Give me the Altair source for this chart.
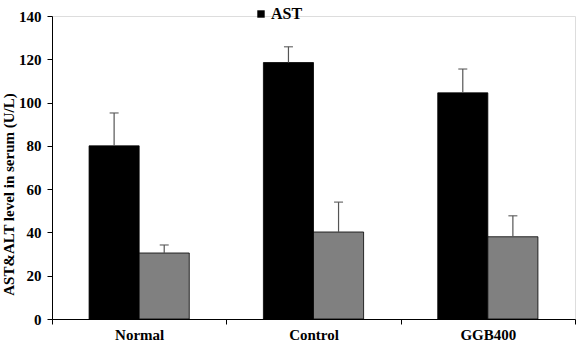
import altair as alt
import pandas as pd

groups = ["Normal", "Control", "GGB400"]
enzymes = ["AST", "ALT"]
ast_mean = [80, 118.5, 104.5]
ast_err = [15.2, 7.3, 11.0]
alt_mean = [30.5, 40.2, 38.0]
alt_err = [3.7, 13.8, 9.7]

rows = []
for g, m, e in zip(groups, ast_mean, ast_err):
    rows.append({"group": g, "enzyme": "AST", "mean": m, "upper": m + e})
for g, m, e in zip(groups, alt_mean, alt_err):
    rows.append({"group": g, "enzyme": "ALT", "mean": m, "upper": m + e})
df = pd.DataFrame(rows)

FONT = "Liberation Serif"

x = alt.X(
    "group:N",
    sort=groups,
    title=None,
    scale=alt.Scale(paddingInner=0, paddingOuter=0),
    axis=alt.Axis(
        tickBand="extent",
        labelAngle=0,
        labelFont=FONT,
        labelFontWeight="bold",
        labelFontSize=15,
        labelColor="black",
        labelPadding=3,
        tickSize=5,
        tickColor="black",
        domainColor="black",
        grid=False,
    ),
)
xo = alt.XOffset(
    "enzyme:N",
    sort=enzymes,
    scale=alt.Scale(paddingInner=0, paddingOuter=0.74),
)
y_scale = alt.Scale(domain=[0, 140])

bars = alt.Chart(df).mark_bar(stroke="black", strokeWidth=0.8).encode(
    x=x,
    xOffset=xo,
    y=alt.Y(
        "mean:Q",
        scale=y_scale,
        title="AST&ALT level in serum (U/L)",
        axis=alt.Axis(
            values=[0, 20, 40, 60, 80, 100, 120, 140],
            grid=False,
            labelFont=FONT,
            labelFontWeight="bold",
            labelFontSize=15,
            labelColor="black",
            labelPadding=6,
            tickSize=5,
            tickColor="black",
            domainColor="black",
            titleFont=FONT,
            titleFontWeight="bold",
            titleFontSize=15,
            titleColor="black",
            titlePadding=2,
            titleY=178,
        ),
    ),
    color=alt.Color(
        "enzyme:N",
        sort=enzymes,
        scale=alt.Scale(domain=enzymes, range=["#000000", "#808080"]),
        legend=alt.Legend(
            values=["AST"],
            title=None,
            orient="none",
            legendX=201,
            legendY=-10,
            symbolType="square",
            symbolSize=55,
            symbolStrokeWidth=0,
            labelFont=FONT,
            labelFontWeight="bold",
            labelFontSize=16,
            labelColor="black",
            labelOffset=2,
        ),
    ),
)

err_color = "#555555"
whisker = alt.Chart(df).mark_rule(color=err_color, strokeWidth=1.2).encode(
    x=alt.X("group:N", sort=groups),
    xOffset=xo,
    y=alt.Y("mean:Q", scale=y_scale),
    y2="upper:Q",
)
cap = alt.Chart(df).mark_tick(color=err_color, thickness=1.5, size=9, orient="horizontal").encode(
    x=alt.X("group:N", sort=groups),
    xOffset=xo,
    y=alt.Y("upper:Q", scale=y_scale),
)

chart = (
    alt.layer(bars, whisker, cap)
    .properties(
        width=523,
        height=303,
        autosize=alt.AutoSizeParams(type="none"),
        padding={"left": 52, "top": 16, "right": 1, "bottom": 25},
    )
    .configure_view(stroke=None)
    .configure(background="white")
)

chart.save("out.html", embed_options={"renderer": "svg", "actions": False})
